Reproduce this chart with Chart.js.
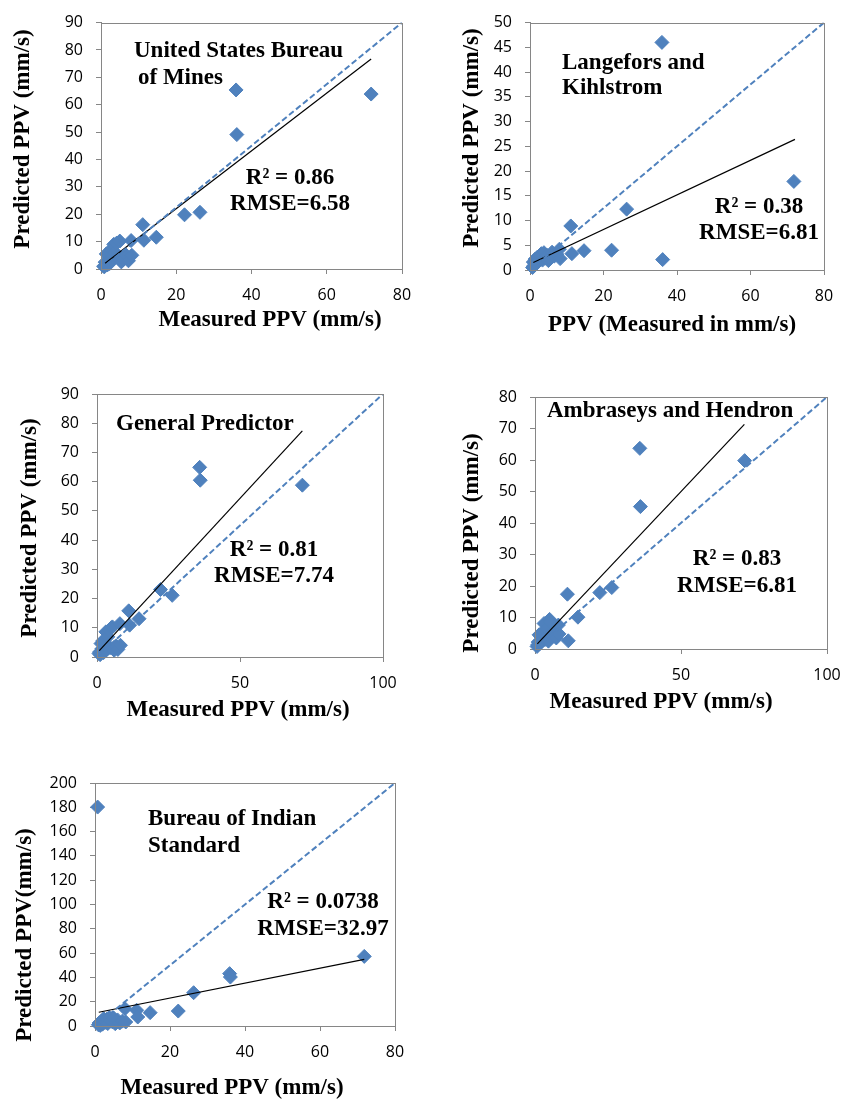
<!DOCTYPE html>
<html>
<head>
<meta charset="utf-8">
<script src="https://cdn.jsdelivr.net/npm/chart.js@4.4.1/dist/chart.umd.min.js"></script>
<style>
  html, body { margin: 0; padding: 0; background: #fff; }
  #wrap { position: relative; width: 856px; height: 1103px; }
  #wrap canvas { position: absolute; left: 0; top: 0; }
</style>
</head>
<body>
<div id="wrap">
  <canvas id="usbm" width="856" height="1103"></canvas>
  <canvas id="lk" width="856" height="1103"></canvas>
  <canvas id="gp" width="856" height="1103"></canvas>
  <canvas id="ah" width="856" height="1103"></canvas>
  <canvas id="bis" width="856" height="1103"></canvas>
</div>
<script>
// measured PPV (mm/s), shared by all five predictors
const measured = [0.7, 0.9, 1.1, 1.4, 1.7, 2.0, 2.3, 2.7, 3.1, 3.4, 3.8, 4.2, 4.6, 5.0,
  5.4, 6.0, 6.6, 7.3, 8.0, 8.2, 11.1, 11.4, 14.7, 22.2, 26.3, 35.9, 36.1, 71.8];

// predicted PPV (mm/s) for each predictor
const predUSBM = [1.0, 0.8, 2.5, 5.5, 1.5, 3.0, 2.0, 7.2, 4.5, 9.0, 6.0, 9.5, 4.2, 10.2,
  2.6, 3.5, 5.2, 3.0, 10.4, 5.0, 16.2, 10.5, 11.6, 19.8, 20.7, 65.4, 49.1, 63.9];
const predLK = [0.5, 1.6, 0.9, 2.2, 1.3, 2.6, 1.8, 3.0, 3.3, 2.0, 3.5, 2.4, 3.0, 1.9,
  2.3, 3.6, 2.8, 3.2, 4.2, 2.3, 8.9, 3.3, 3.9, 4.0, 12.3, 46.0, 2.1, 17.9];
const predGP = [1.2, 1.7, 0.8, 4.6, 2.8, 5.5, 1.5, 3.5, 8.6, 2.5, 6.9, 9.2, 3.2, 10.0,
  10.3, 2.3, 3.8, 2.6, 11.4, 4.0, 15.8, 10.9, 13.1, 23.1, 21.1, 64.9, 60.5, 58.8];
const predAH = [0.8, 1.3, 2.2, 4.5, 1.8, 3.9, 2.8, 5.5, 8.1, 3.0, 3.9, 6.5, 2.5, 9.4,
  8.6, 4.0, 5.0, 3.5, 7.6, 4.8, 17.4, 2.6, 10.1, 17.9, 19.5, 63.7, 45.2, 59.8];
const predBIS = [180.2, 1.0, 2.5, 0.5, 4.0, 1.5, 6.0, 3.0, 5.5, 2.0, 7.0, 4.0, 3.5, 6.5,
  1.9, 5.0, 2.5, 4.0, 14.3, 3.3, 13.0, 7.4, 11.0, 12.3, 27.4, 43.1, 40.3, 57.3];

// linear trendline end points [x, y]
const trendUSBM = [[1.1, 2.1], [71.8, 76.7]];
const trendLK = [[0.9, 1.5], [72.1, 26.4]];
const trendGP = [[0.8, 2.2], [71.8, 77.4]];
const trendAH = [[0.8, 1.6], [71.7, 71.3]];
const trendBIS = [[1.0, 11.3], [71.8, 54.9]];

const BLUE = '#4F81BD';
const AXIS = '#868686';
const SERIF = '"Liberation Serif", "Times New Roman", serif';
const tickFont = { family: '"Open Sans", sans-serif', size: 16 };

// frame round the plot area + text notes (pixel positions on the page)
const boxAndText = {
  id: 'boxAndText',
  afterDatasetsDraw(chart, args, opts) {
    const { ctx, chartArea: a } = chart;
    ctx.save();
    ctx.strokeStyle = AXIS;
    ctx.lineWidth = 1;
    ctx.strokeRect(Math.round(a.left) + 0.5, Math.round(a.top) + 0.5,
      Math.round(a.right - a.left), Math.round(a.bottom - a.top));
    ctx.fillStyle = '#000';
    ctx.font = 'bold 23px ' + SERIF;
    ctx.textBaseline = 'middle';
    (opts.notes || []).forEach(n => {
      ctx.save();
      ctx.translate(n.x, n.y);
      if (n.rot) ctx.rotate(n.rot);
      ctx.textAlign = n.align || 'center';
      ctx.fillText(n.text, 0, 0);
      ctx.restore();
    });
    ctx.restore();
  }
};

function makeChart(id, box, xMax, xStep, yMax, yStep, pred, trend, notes) {
  const axisW = 60, axisH = 40;
  new Chart(document.getElementById(id), {
    type: 'scatter',
    data: {
      datasets: [
        {
          // 1:1 line, corner to corner
          data: [{ x: 0, y: 0 }, { x: xMax, y: yMax }],
          showLine: true, pointRadius: 0,
          borderColor: BLUE, borderWidth: 2, borderDash: [6, 3]
        },
        {
          data: trend.map(p => ({ x: p[0], y: p[1] })),
          showLine: true, pointRadius: 0,
          borderColor: '#000', borderWidth: 1.2
        },
        {
          data: measured.map((x, i) => ({ x: x, y: pred[i] })),
          pointStyle: 'rectRot', pointRadius: 7,
          backgroundColor: BLUE, borderColor: BLUE, borderWidth: 1,
          clip: false
        }
      ]
    },
    options: {
      responsive: false,
      animation: false,
      layout: {
        padding: {
          left: box.L - axisW, top: box.T,
          right: 856 - box.R, bottom: 1103 - box.B - axisH
        }
      },
      scales: {
        x: {
          type: 'linear', min: 0, max: xMax,
          afterFit: s => { s.height = axisH; },
          ticks: { stepSize: xStep, font: tickFont, color: '#000', padding: 12 },
          grid: { drawOnChartArea: false, tickLength: 5, color: AXIS },
          border: { color: AXIS }
        },
        y: {
          type: 'linear', min: 0, max: yMax,
          afterFit: s => { s.width = axisW; },
          ticks: { stepSize: yStep, font: tickFont, color: '#000', padding: 13 },
          grid: { drawOnChartArea: false, tickLength: 5, color: AXIS },
          border: { color: AXIS }
        }
      },
      plugins: {
        legend: { display: false },
        tooltip: { enabled: false },
        boxAndText: { notes: notes }
      }
    },
    plugins: [boxAndText]
  });
}

const UP = -Math.PI / 2;

makeChart('usbm', { L: 101, T: 16, R: 402, B: 269 }, 80, 20, 90, 10, predUSBM, trendUSBM, [
  { text: 'United States Bureau', x: 134, y: 51, align: 'left' },
  { text: 'of Mines', x: 138, y: 78, align: 'left' },
  { text: 'R² = 0.86', x: 290, y: 178 },
  { text: 'RMSE=6.58', x: 290, y: 204 },
  { text: 'Measured PPV (mm/s)', x: 270, y: 320 },
  { text: 'Predicted PPV (mm/s)', x: 23, y: 139, rot: UP }
]);

makeChart('lk', { L: 530, T: 14, R: 824, B: 270 }, 80, 20, 50, 5, predLK, trendLK, [
  { text: 'Langefors and', x: 562, y: 63, align: 'left' },
  { text: 'Kihlstrom', x: 562, y: 88, align: 'left' },
  { text: 'R² = 0.38', x: 759, y: 207 },
  { text: 'RMSE=6.81', x: 759, y: 233 },
  { text: 'PPV (Measured in mm/s)', x: 672, y: 325 },
  { text: 'Predicted PPV (mm/s)', x: 472, y: 138, rot: UP }
]);

makeChart('gp', { L: 97, T: 394, R: 383, B: 657 }, 100, 50, 90, 10, predGP, trendGP, [
  { text: 'General Predictor', x: 116, y: 424, align: 'left' },
  { text: 'R² = 0.81', x: 274, y: 550 },
  { text: 'RMSE=7.74', x: 274, y: 576 },
  { text: 'Measured PPV (mm/s)', x: 238, y: 710 },
  { text: 'Predicted PPV (mm/s)', x: 30, y: 528, rot: UP }
]);

makeChart('ah', { L: 535, T: 397, R: 827, B: 649 }, 100, 50, 80, 10, predAH, trendAH, [
  { text: 'Ambraseys and Hendron', x: 547, y: 411, align: 'left' },
  { text: 'R² = 0.83', x: 737, y: 559 },
  { text: 'RMSE=6.81', x: 737, y: 586 },
  { text: 'Measured PPV (mm/s)', x: 661, y: 702 },
  { text: 'Predicted PPV (mm/s)', x: 472, y: 543, rot: UP }
]);

makeChart('bis', { L: 95, T: 783, R: 395, B: 1026 }, 80, 20, 200, 20, predBIS, trendBIS, [
  { text: 'Bureau of Indian', x: 148, y: 819, align: 'left' },
  { text: 'Standard', x: 148, y: 846, align: 'left' },
  { text: 'R² = 0.0738', x: 323, y: 902 },
  { text: 'RMSE=32.97', x: 323, y: 929 },
  { text: 'Measured PPV (mm/s)', x: 232, y: 1088 },
  { text: 'Predicted PPV(mm/s)', x: 25, y: 935, rot: UP }
]);
</script>
</body>
</html>
